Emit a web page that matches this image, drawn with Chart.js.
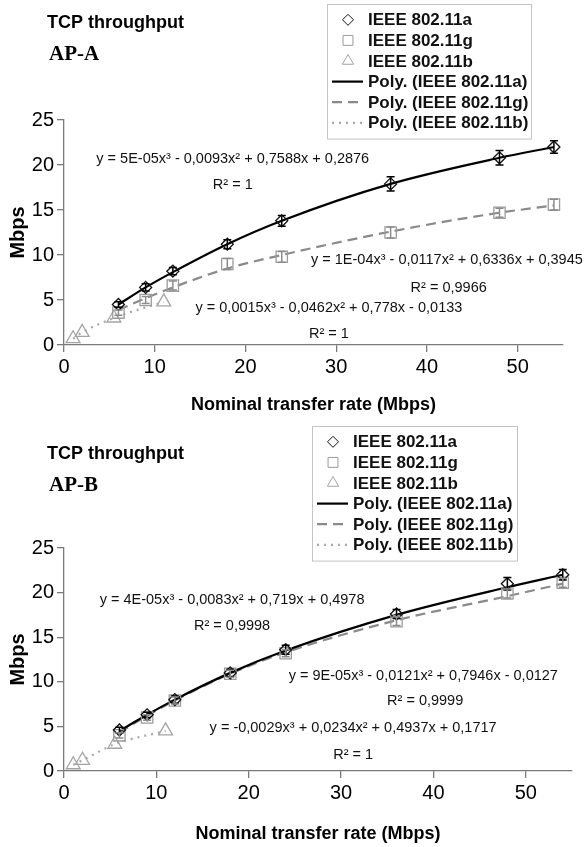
<!DOCTYPE html>
<html>
<head>
<meta charset="utf-8">
<script src="https://cdn.jsdelivr.net/npm/chart.js@4.4.1/dist/chart.umd.min.js"></script>
<style>
  body { margin: 0; background: #fff; }
  canvas { display: block; }
</style>
</head>
<body>
<canvas id="apA" width="588" height="418"></canvas>
<canvas id="apB" width="588" height="429"></canvas>
<script>
// nominal rates (Mbps)
const ratesAG = [6, 9, 12, 18, 24, 36, 48, 54];
const ratesB = [1, 2, 5.5, 11];
const xTicks = [0, 10, 20, 30, 40, 50];
const yTicks = [0, 5, 10, 15, 20, 25];

const seriesNames = ["IEEE 802.11a", "IEEE 802.11g", "IEEE 802.11b",
  "Poly. (IEEE 802.11a)", "Poly. (IEEE 802.11g)", "Poly. (IEEE 802.11b)"];

// AP-A measurements
const apA11a = [4.5, 6.4, 8.2, 11.2, 13.8, 17.9, 20.8, 22.0];
const apA11aErr = [0.3, 0.4, 0.4, 0.5, 0.6, 0.8, 0.8, 0.7];
const apA11g = [3.6, 5.0, 6.6, 9.0, 9.8, 12.5, 14.7, 15.6];
const apA11gErr = [0.3, 0.4, 0.5, 0.6, 0.6, 0.6, 0.5, 0.6];
const apA11b = [0.7, 1.4, 3.0, 4.8];
// AP-A trend lines
const apAPolyA = [4.5, 6.4, 8.1, 11.2, 13.8, 17.9, 20.8, 22.0];
const apAPolyG = [3.9, 5.2, 6.4, 8.5, 10.0, 12.6, 14.7, 15.5];
const apAPolyB = [0.7, 1.4, 3.0, 4.8];
const apANotes = [
  "y = 5E-05x³ - 0,0093x² + 0,7588x + 0,2876", "R² = 1",
  "y = 1E-04x³ - 0,0117x² + 0,6336x + 0,3945", "R² = 0,9966",
  "y = 0,0015x³ - 0,0462x² + 0,778x - 0,0133", "R² = 1"
];

// AP-B measurements
const apB11a = [4.6, 6.3, 8.0, 11.0, 13.6, 17.6, 21.0, 22.0];
const apB11aErr = [0.3, 0.3, 0.4, 0.4, 0.5, 0.5, 0.7, 0.6];
const apB11g = [4.0, 6.0, 7.9, 10.9, 13.2, 16.8, 19.9, 21.1];
const apB11gErr = [0.3, 0.3, 0.4, 0.4, 0.4, 0.5, 0.5, 0.5];
const apB11b = [0.7, 1.2, 3.0, 4.5];
const apBPolyA = [4.5, 6.3, 8.0, 11.0, 13.5, 17.5, 20.6, 22.0];
const apBPolyG = [4.3, 6.2, 7.9, 10.9, 13.3, 16.9, 19.6, 21.0];
const apBPolyB = [0.7, 1.2, 3.0, 4.5];
const apBNotes = [
  "y = 4E-05x³ - 0,0083x² + 0,719x + 0,4978", "R² = 0,9998",
  "y = 9E-05x³ - 0,0121x² + 0,7946x - 0,0127", "R² = 0,9999",
  "y = -0,0029x³ + 0,0234x² + 0,4937x + 0,1717", "R² = 1"
];

const FONT = '"Liberation Sans", Arial, sans-serif';
const pts = (xs, ys) => xs.map((x, i) => ({ x, y: ys[i] }));

// vertical error bars with caps
const errorBars = {
  id: "errorBars",
  afterDatasetsDraw(chart, args, opts) {
    const { ctx, scales: { x, y } } = chart;
    (opts.sets || []).forEach(s => {
      ctx.save();
      ctx.strokeStyle = s.color;
      ctx.lineWidth = 1.5;
      s.xs.forEach((xv, i) => {
        const px = x.getPixelForValue(xv);
        const top = y.getPixelForValue(s.ys[i] + s.err[i]);
        const bot = y.getPixelForValue(s.ys[i] - s.err[i]);
        ctx.beginPath();
        ctx.moveTo(px, top); ctx.lineTo(px, bot);
        ctx.moveTo(px - 4, top); ctx.lineTo(px + 4, top);
        ctx.moveTo(px - 4, bot); ctx.lineTo(px + 4, bot);
        ctx.stroke();
      });
      ctx.restore();
    });
  }
};

// headings, fit equations and the boxed legend
const decorations = {
  id: "decorations",
  afterDraw(chart, args, o) {
    const { ctx, scales: { x, y } } = chart;
    ctx.save();
    ctx.fillStyle = "#000";
    ctx.textBaseline = "middle";
    ctx.textAlign = "left";
    ctx.font = "bold 18px " + FONT;
    ctx.fillText("TCP throughput", 47, o.titleY);
    ctx.font = 'bold 21px "Liberation Serif", "Times New Roman", serif';
    ctx.fillText(o.subtitle, 49, o.subtitleY);

    ctx.font = "14.5px " + FONT;
    ctx.fillStyle = "#111";
    ctx.textAlign = "center";
    o.notes.forEach((t, i) => {
      const [nx, ny] = o.notePos[i];
      ctx.fillText(t, x.getPixelForValue(nx), y.getPixelForValue(ny));
    });

    const lg = o.legend;
    const rowH = 20.6, pad = 5.5;
    ctx.strokeStyle = "#c4c4c4";
    ctx.lineWidth = 1;
    ctx.strokeRect(lg.left + 0.5, lg.top + 0.5, lg.width, rowH * 6 + pad * 2);
    ctx.textAlign = "left";
    ctx.font = "bold 17px " + FONT;
    chart.data.datasets.forEach((ds, i) => {
      const cy = lg.top + pad + rowH * (i + 0.5);
      ctx.save();
      if (ds.showLine) {
        ctx.strokeStyle = ds.borderColor;
        ctx.lineWidth = ds.borderWidth;
        ctx.setLineDash(ds.borderDash || []);
        ctx.beginPath();
        ctx.moveTo(lg.left + 5, cy);
        ctx.lineTo(lg.left + 36, cy);
        ctx.stroke();
      } else {
        ctx.strokeStyle = ds.borderColor;
        ctx.fillStyle = "rgba(0,0,0,0)";
        Chart.helpers.drawPoint(ctx, { pointStyle: ds.pointStyle, radius: ds.legendRadius, borderWidth: 1.2, rotation: 0 }, lg.left + 21, cy);
      }
      ctx.restore();
      ctx.fillText(ds.label, lg.left + 41, cy + 1);
    });
    ctx.restore();
  }
};

function axis(values, min, max, title, titleFont, titlePad, extra) {
  return Object.assign({
    type: "linear",
    min, max,
    afterBuildTicks: s => { s.ticks = values.map(v => ({ value: v })); },
    grid: { drawOnChartArea: false, drawTicks: true, tickLength: 7, color: "#7a7a7a", lineWidth: 1.3 },
    border: { display: true, color: "#7a7a7a", width: 1.3 },
    ticks: { color: "#000", font: { family: FONT, size: 20 } },
    title: { display: true, text: title, color: "#000", font: titleFont, padding: titlePad }
  }, extra);
}

function makeChart(id, d) {
  const h = document.getElementById(id).height;
  const datasets = [
    { label: seriesNames[0], data: pts(ratesAG, d.a), pointStyle: "rectRot", pointRadius: 6, legendRadius: 5.5,
      borderColor: "#111", borderWidth: 1.3, backgroundColor: "rgba(255,255,255,0)", showLine: false },
    { label: seriesNames[1], data: pts(ratesAG, d.g), pointStyle: "rect", pointRadius: 8, legendRadius: 7,
      borderColor: "#9c9c9c", borderWidth: 1.3, backgroundColor: "rgba(255,255,255,0)", showLine: false },
    { label: seriesNames[2], data: pts(ratesB, d.b), pointStyle: "triangle", pointRadius: 8, legendRadius: 6.5,
      borderColor: "#a4a4a4", borderWidth: 1.3, backgroundColor: "rgba(255,255,255,0)", showLine: false },
    { label: seriesNames[3], data: pts(ratesAG, d.polyA), showLine: true, pointRadius: 0,
      borderColor: "#000", borderWidth: 2.2, cubicInterpolationMode: "monotone" },
    { label: seriesNames[4], data: pts(ratesAG, d.polyG), showLine: true, pointRadius: 0,
      borderColor: "#8a8a8a", borderWidth: 2.2, borderDash: [10, 6], cubicInterpolationMode: "monotone" },
    { label: seriesNames[5], data: pts(ratesB, d.polyB), showLine: true, pointRadius: 0,
      borderColor: "#a8a8a8", borderWidth: 2.2, borderDash: [2, 5], cubicInterpolationMode: "monotone" }
  ];

  return new Chart(document.getElementById(id), {
    type: "scatter",
    data: { datasets },
    options: {
      responsive: false,
      animation: false,
      layout: { padding: { top: d.plotTop, right: 588 - d.plotRight, left: 0, bottom: 0 } },
      scales: {
        x: axis(xTicks, 0, 55, "Nominal transfer rate (Mbps)",
          { family: FONT, size: 18, weight: "bold" }, { top: 0, bottom: 2 },
          { afterFit: s => { s.height = h - d.plotBottom; } }),
        y: axis(yTicks, 0, 25, "Mbps",
          { family: FONT, size: 20, weight: "bold" }, { top: 6, bottom: 0 },
          { afterFit: s => { s.width = 64; } })
      },
      plugins: {
        legend: { display: false },
        tooltip: { enabled: false },
        errorBars: {
          sets: [
            { xs: ratesAG, ys: d.a, err: d.aErr, color: "#000" },
            { xs: ratesAG, ys: d.g, err: d.gErr, color: "#8c8c8c" }
          ]
        },
        decorations: {
          titleY: d.titleY, subtitle: d.subtitle, subtitleY: d.subtitleY,
          notes: d.notes, notePos: d.notePos, legend: d.legend
        }
      }
    },
    plugins: [errorBars, decorations]
  });
}

makeChart("apA", {
  a: apA11a, aErr: apA11aErr, g: apA11g, gErr: apA11gErr, b: apA11b,
  polyA: apAPolyA, polyG: apAPolyG, polyB: apAPolyB,
  notes: apANotes,
  notePos: [[18.6, 20.7], [18.6, 17.8], [42.2, 9.5], [42.4, 6.3], [29.2, 4.1], [29.2, 1.2]],
  plotTop: 120, plotBottom: 345, plotRight: 563,
  titleY: 23, subtitle: "AP-A", subtitleY: 55,
  legend: { left: 327, top: 4, width: 204 }
});

makeChart("apB", {
  a: apB11a, aErr: apB11aErr, g: apB11g, gErr: apB11gErr, b: apB11b,
  polyA: apBPolyA, polyG: apBPolyG, polyB: apBPolyB,
  notes: apBNotes,
  notePos: [[18.2, 19.2], [18.2, 16.3], [38.9, 10.7], [39.1, 7.9], [31.3, 4.8], [31.3, 1.8]],
  plotTop: 130, plotBottom: 353, plotRight: 572,
  titleY: 36, subtitle: "AP-B", subtitleY: 68,
  legend: { left: 312, top: 8, width: 205 }
});
</script>
</body>
</html>
